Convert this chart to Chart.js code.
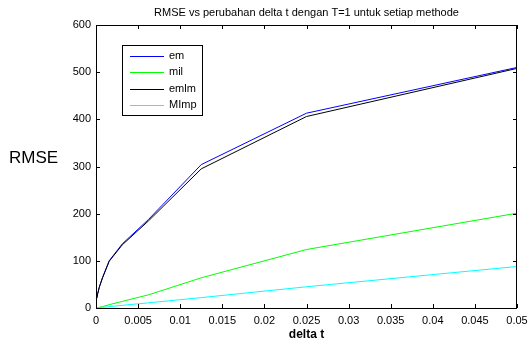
<!DOCTYPE html>
<html>
<head>
<meta charset="utf-8">
<script src="https://cdn.jsdelivr.net/npm/chart.js@4.4.0/dist/chart.umd.min.js"></script>
<style>
  html, body { margin: 0; padding: 0; background: #fff; }
  #wrap { width: 528px; height: 343px; }
</style>
</head>
<body>
<div id="wrap"><canvas id="c" width="528" height="343"></canvas></div>
<script>
// ----------------- Data -----------------
const deltaT = [0.0000977, 0.000195, 0.000391, 0.000781, 0.0015625, 0.003125, 0.00625, 0.0125, 0.025, 0.05];
const emVals = [21, 30, 44, 65, 100, 136, 188, 304, 413, 510];
const milVals = [0.3, 0.6, 1.5, 3, 7, 14, 28, 64, 124, 201];
const emlmVals = [21, 30, 44, 64, 99, 134, 185, 295, 406, 508];
const mimpVals = [0.2, 0.4, 0.7, 1.4, 2.8, 5.6, 11, 22, 45, 88];
const xTicks = [0, 0.005, 0.01, 0.015, 0.02, 0.025, 0.03, 0.035, 0.04, 0.045, 0.05];
const yTicks = [0, 100, 200, 300, 400, 500, 600];

const FONT = "'Liberation Sans', Arial, sans-serif";

function pts(vals) {
  return vals.map((v, i) => ({ x: deltaT[i], y: v }));
}

function fmtX(v) {
  if (v === 0) return "0";
  return String(Math.round(v * 1000) / 1000);
}

// ----------------- Decorations (box, inward ticks, labels, legend) -----------------
const matlabAxes = {
  id: "matlabAxes",
  afterDatasetsDraw(chart) {
    const { ctx, chartArea: a, scales } = chart;
    ctx.save();
    ctx.strokeStyle = "#000";
    ctx.lineWidth = 1;

    // box
    ctx.strokeRect(a.left + 0.5, a.top + 0.5, a.right - a.left - 1, a.bottom - a.top);

    // inward ticks
    ctx.beginPath();
    xTicks.forEach((t) => {
      const px = Math.round(scales.x.getPixelForValue(t)) + 0.5;
      ctx.moveTo(px, a.bottom);
      ctx.lineTo(px, a.bottom - 4);
      ctx.moveTo(px, a.top);
      ctx.lineTo(px, a.top + 4);
    });
    yTicks.forEach((t) => {
      const py = Math.round(scales.y.getPixelForValue(t)) + 0.5;
      ctx.moveTo(a.left, py);
      ctx.lineTo(a.left + 4, py);
      ctx.moveTo(a.right, py);
      ctx.lineTo(a.right - 4, py);
    });
    ctx.stroke();

    // title
    ctx.fillStyle = "#000";
    ctx.font = "11px " + FONT;
    ctx.textAlign = "center";
    ctx.textBaseline = "middle";
    ctx.fillText("RMSE vs perubahan delta t dengan T=1 untuk setiap methode", (a.left + a.right) / 2, 13);

    // y label
    ctx.font = "17px " + FONT;
    ctx.textAlign = "left";
    ctx.fillText("RMSE", 9, 158);

    // x label
    ctx.font = "bold 12px " + FONT;
    ctx.textAlign = "center";
    ctx.fillText("delta t", (a.left + a.right) / 2, 335);

    // legend
    const lx = 122, ly = 45, lw = 80, lh = 70;
    ctx.fillStyle = "#fff";
    ctx.fillRect(lx, ly, lw, lh);
    ctx.strokeStyle = "#000";
    ctx.strokeRect(lx + 0.5, ly + 0.5, lw, lh);
    ctx.font = "11px " + FONT;
    ctx.textAlign = "left";
    chart.data.datasets.forEach((ds, i) => {
      const y = ly + 11 + i * 16.3;
      ctx.strokeStyle = ds.borderColor;
      ctx.beginPath();
      ctx.moveTo(lx + 8, Math.round(y) + 0.5);
      ctx.lineTo(lx + 42, Math.round(y) + 0.5);
      ctx.stroke();
      ctx.fillStyle = "#000";
      ctx.fillText(ds.label, lx + 47, y);
    });
    ctx.restore();
  },
};

// ----------------- Chart -----------------
new Chart(document.getElementById("c").getContext("2d"), {
  type: "line",
  data: {
    datasets: [
      { label: "em", data: pts(emVals), borderColor: "#0000ff", order: 4 },
      { label: "mil", data: pts(milVals), borderColor: "#00ff00", order: 3 },
      { label: "emlm", data: pts(emlmVals), borderColor: "#000000", order: 2 },
      { label: "MImp", data: pts(mimpVals), borderColor: "#00ffff", order: 1 },
    ],
  },
  options: {
    responsive: false,
    animation: false,
    layout: { padding: { top: 25, right: 11, left: 0, bottom: 0 } },
    elements: {
      line: { borderWidth: 1, tension: 0 },
      point: { radius: 0 },
    },
    plugins: {
      legend: { display: false },
      tooltip: { enabled: false },
    },
    scales: {
      x: {
        type: "linear",
        min: 0,
        max: 0.05,
        afterBuildTicks: (s) => { s.ticks = xTicks.map((v) => ({ value: v })); },
        afterFit: (s) => {
          s.height = 35;
          s.paddingLeft = 0;
          s.paddingRight = 0;
        },
        grid: { display: false, drawTicks: false, tickLength: 0 },
        border: { display: false },
        ticks: {
          color: "#000",
          font: { family: FONT, size: 11 },
          padding: 6,
          maxRotation: 0,
          callback: (v) => fmtX(v),
        },
      },
      y: {
        min: 0,
        max: 600,
        afterBuildTicks: (s) => { s.ticks = yTicks.map((v) => ({ value: v })); },
        afterFit: (s) => {
          s.width = 96;
          s.paddingTop = 0;
          s.paddingBottom = 0;
        },
        grid: { display: false, drawTicks: false, tickLength: 0 },
        border: { display: false },
        ticks: {
          color: "#000",
          font: { family: FONT, size: 11 },
          padding: 5,
        },
      },
    },
  },
  plugins: [matlabAxes],
});
</script>
</body>
</html>
